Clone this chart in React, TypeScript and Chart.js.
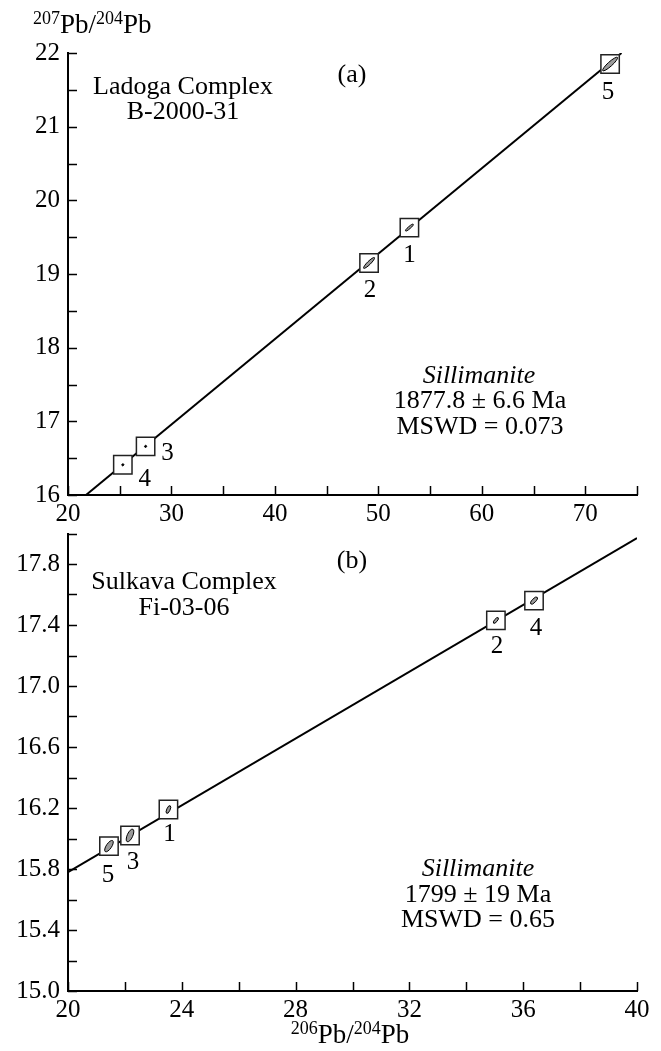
import React, { useEffect, useRef } from "react";
import { Chart, registerables } from "chart.js";

Chart.register(...registerables);

const SERIF = "'Liberation Serif', 'DejaVu Serif', 'Times New Roman', serif";

// ---------------- Panel (a): Ladoga Complex ----------------
const ptLabelsA = ["1", "2", "3", "4", "5"];
const pb206A = [53.0, 49.1, 27.5, 25.3, 72.4];
const pb207A = [19.63, 19.15, 16.66, 16.41, 21.85];
const err206A = [0.37, 0.52, 0.08, 0.08, 0.71];
const err207A = [0.045, 0.072, 0.01, 0.01, 0.09];
const isochronXA = [21.74, 73.5];
const isochronYA = [16.0, 22.0];
const xMajorA = [20, 30, 40, 50, 60, 70];
const xMinorA = [25, 35, 45, 55, 65, 75];
const yMajorA = [16, 17, 18, 19, 20, 21, 22];
const yMinorA = [16.5, 17.5, 18.5, 19.5, 20.5, 21.5];
const sampleA = ["Ladoga Complex", "B-2000-31"];
const panelA = "(a)";
const resultA = ["Sillimanite", "1877.8 ± 6.6 Ma", "MSWD = 0.073"];

// ---------------- Panel (b): Sulkava Complex ----------------
const ptLabelsB = ["1", "2", "3", "4", "5"];
const pb206B = [23.53, 35.04, 22.18, 36.38, 21.44];
const pb207B = [16.19, 17.43, 16.02, 17.56, 15.95];
const err206B = [0.06, 0.08, 0.1, 0.11, 0.13];
const err207B = [0.025, 0.018, 0.041, 0.022, 0.036];
const isochronXB = [20, 40];
const isochronYB = [15.78, 17.97];
const xMajorB = [20, 24, 28, 32, 36, 40];
const xMinorB = [22, 26, 30, 34, 38];
const yMajorB = [15.0, 15.4, 15.8, 16.2, 16.6, 17.0, 17.4, 17.8];
const yMinorB = [15.2, 15.6, 16.0, 16.4, 16.8, 17.2, 17.6, 18.0];
const sampleB = ["Sulkava Complex", "Fi-03-06"];
const panelB = "(b)";
const resultB = ["Sillimanite", "1799 ± 19 Ma", "MSWD = 0.65"];

const yTitleParts = [
  { t: "207", sup: true },
  { t: "Pb/", sup: false },
  { t: "204", sup: true },
  { t: "Pb", sup: false },
];
const xTitleParts = [
  { t: "206", sup: true },
  { t: "Pb/", sup: false },
  { t: "204", sup: true },
  { t: "Pb", sup: false },
];

// ---------------- styles ----------------
const TICK_FONT = 25;
const TEXT_FONT = 26;
const TITLE_FONT = 27;
const SUP_FONT = 18;

function drawRich(ctx: CanvasRenderingContext2D, parts: any[], x: number, y: number, align: string) {
  let total = 0;
  const widths = parts.map((p) => {
    ctx.font = `${p.sup ? SUP_FONT : TITLE_FONT}px ${SERIF}`;
    const w = ctx.measureText(p.t).width;
    total += w;
    return w;
  });
  let cx = align === "center" ? x - total / 2 : x;
  ctx.textAlign = "left";
  ctx.textBaseline = "alphabetic";
  parts.forEach((p, i) => {
    ctx.font = `${p.sup ? SUP_FONT : TITLE_FONT}px ${SERIF}`;
    ctx.fillText(p.t, cx, p.sup ? y - 9 : y);
    cx += widths[i];
  });
}

function buildChart(canvas: HTMLCanvasElement, cfg: any) {
  const pts = cfg.xs.map((x: number, i: number) => ({ x, y: cfg.ys[i] }));
  const line = cfg.isoX.map((x: number, i: number) => ({ x, y: cfg.isoY[i] }));

  const tickPlugin = {
    id: "inwardTicks",
    afterDraw(chart: any) {
      const ctx = chart.ctx;
      const xs = chart.scales.x;
      const ys = chart.scales.y;
      const area = chart.chartArea;
      ctx.save();
      ctx.strokeStyle = "#000";
      ctx.lineWidth = 1.5;
      ctx.beginPath();
      xs.ticks.forEach((t: any) => {
        const p = Math.round(xs.getPixelForValue(t.value)) + 0.5;
        ctx.moveTo(p, area.bottom);
        ctx.lineTo(p, area.bottom - 9);
      });
      ys.ticks.forEach((t: any) => {
        const p = Math.round(ys.getPixelForValue(t.value)) + 0.5;
        ctx.moveTo(area.left, p);
        ctx.lineTo(area.left + 9, p);
      });
      ctx.stroke();
      ctx.restore();
    },
  };

  const ellipsePlugin = {
    id: "errEllipses",
    afterDatasetsDraw(chart: any) {
      const ctx = chart.ctx;
      const xs = chart.scales.x;
      const ys = chart.scales.y;
      ctx.save();
      cfg.xs.forEach((x: number, i: number) => {
        const y = cfg.ys[i];
        const px = xs.getPixelForValue(x);
        const py = ys.getPixelForValue(y);
        const dx = xs.getPixelForValue(x + cfg.ex[i]) - px;
        const dy = ys.getPixelForValue(y + cfg.ey[i]) - py;
        const a = Math.max(Math.hypot(dx, dy), 1);
        const b = Math.max(a * cfg.ratio, 1);
        const ang = Math.atan2(dy, dx);
        ctx.beginPath();
        ctx.ellipse(px, py, a, b, ang, 0, Math.PI * 2);
        ctx.fillStyle = a < 2 ? "#000" : "#9a9a9a";
        ctx.fill();
        ctx.lineWidth = 1;
        ctx.strokeStyle = "#000";
        ctx.stroke();
        // point label
        const off = cfg.labelOffsets[i];
        ctx.fillStyle = "#000";
        ctx.font = `${TICK_FONT}px ${SERIF}`;
        ctx.textAlign = "center";
        ctx.textBaseline = "middle";
        ctx.fillText(cfg.ptLabels[i], px + off[0], py + off[1]);
      });
      ctx.restore();
    },
  };

  const textPlugin = {
    id: "annotations",
    afterDraw(chart: any) {
      const ctx = chart.ctx;
      ctx.save();
      ctx.fillStyle = "#000";
      ctx.textAlign = "center";
      ctx.textBaseline = "alphabetic";
      cfg.texts.forEach((t: any) => {
        ctx.font = `${t.italic ? "italic " : ""}${TEXT_FONT}px ${SERIF}`;
        ctx.textAlign = "center";
        ctx.fillText(t.text, t.x, t.y);
      });
      if (cfg.richTitle) {
        drawRich(ctx, cfg.richTitle.parts, cfg.richTitle.x, cfg.richTitle.y, cfg.richTitle.align);
      }
      ctx.restore();
    },
  };

  const fmt = cfg.fmt;
  const mkTicks = (major: number[], minor: number[]) => (s: any) => {
    s.ticks = [...major, ...minor].sort((a, b) => a - b).map((v) => ({ value: v }));
  };

  return new Chart(canvas, {
    type: "scatter",
    data: {
      datasets: [
        {
          data: line,
          showLine: true,
          pointRadius: 0,
          borderColor: "#000",
          borderWidth: 2,
          order: 2,
        },
        {
          data: pts,
          pointStyle: "rect",
          pointRadius: 13,
          pointBackgroundColor: "#fff",
          pointBorderColor: "#222",
          pointBorderWidth: 1.5,
          showLine: false,
          order: 1,
        },
      ],
    },
    options: {
      responsive: false,
      animation: false,
      events: [],
      layout: { padding: { top: cfg.padTop, right: 24, left: 0, bottom: 0 } },
      plugins: { legend: { display: false }, tooltip: { enabled: false } },
      scales: {
        x: {
          type: "linear",
          min: cfg.xMin,
          max: cfg.xMax,
          afterBuildTicks: mkTicks(cfg.xMajor, cfg.xMinor),
          afterFit: (s: any) => {
            s.height = cfg.xHeight;
          },
          grid: { display: false, drawTicks: false },
          border: { display: true, color: "#000", width: 2 },
          ticks: {
            autoSkip: false,
            maxRotation: 0,
            padding: 4,
            color: "#000",
            font: { family: SERIF, size: TICK_FONT },
            callback: (v: any) => (cfg.xMajor.includes(v) ? fmt.x(v) : ""),
          },
        },
        y: {
          type: "linear",
          min: cfg.yMin,
          max: cfg.yMax,
          afterBuildTicks: mkTicks(cfg.yMajor, cfg.yMinor),
          afterFit: (s: any) => {
            s.width = 68;
          },
          grid: { display: false, drawTicks: false },
          border: { display: true, color: "#000", width: 2 },
          ticks: {
            autoSkip: false,
            padding: 8,
            color: "#000",
            font: { family: SERIF, size: TICK_FONT },
            callback: (v: any) => (cfg.yMajor.includes(v) ? fmt.y(v) : ""),
          },
        },
      },
    },
    plugins: [tickPlugin, ellipsePlugin, textPlugin],
  } as any);
}

export default function App() {
  const refA = useRef<HTMLCanvasElement>(null);
  const refB = useRef<HTMLCanvasElement>(null);

  useEffect(() => {
    const chartA = buildChart(refA.current!, {
      xs: pb206A,
      ys: pb207A,
      ex: err206A,
      ey: err207A,
      ratio: 0.22,
      ptLabels: ptLabelsA,
      labelOffsets: [
        [0, 28],
        [1, 27],
        [22, 7],
        [22, 15],
        [-2, 28],
      ],
      isoX: isochronXA,
      isoY: isochronYA,
      xMin: 20,
      xMax: 75,
      yMin: 16,
      yMax: 22,
      xMajor: xMajorA,
      xMinor: xMinorA,
      yMajor: yMajorA,
      yMinor: yMinorA,
      padTop: 53,
      xHeight: 35,
      fmt: { x: (v: number) => String(v), y: (v: number) => String(v) },
      texts: [
        { text: sampleA[0], x: 183, y: 94 },
        { text: sampleA[1], x: 183, y: 119 },
        { text: panelA, x: 352, y: 82 },
        { text: resultA[0], x: 479, y: 383, italic: true },
        { text: resultA[1], x: 480, y: 408 },
        { text: resultA[2], x: 480, y: 434 },
      ],
      richTitle: { parts: yTitleParts, x: 33, y: 33, align: "left" },
    });
    const chartB = buildChart(refB.current!, {
      xs: pb206B,
      ys: pb207B,
      ex: err206B,
      ey: err207B,
      ratio: 0.4,
      ptLabels: ptLabelsB,
      labelOffsets: [
        [1, 25],
        [1, 26],
        [3, 27],
        [2, 28],
        [-1, 29],
      ],
      isoX: isochronXB,
      isoY: isochronYB,
      xMin: 20,
      xMax: 40,
      yMin: 15,
      yMax: 18,
      xMajor: xMajorB,
      xMinor: xMinorB,
      yMajor: yMajorB,
      yMinor: yMinorB,
      padTop: 33.5,
      xHeight: 60,
      fmt: { x: (v: number) => String(v), y: (v: number) => v.toFixed(1) },
      texts: [
        { text: sampleB[0], x: 184, y: 89 },
        { text: sampleB[1], x: 184, y: 115 },
        { text: panelB, x: 352, y: 68 },
        { text: resultB[0], x: 478, y: 376, italic: true },
        { text: resultB[1], x: 478, y: 402 },
        { text: resultB[2], x: 478, y: 427 },
      ],
      richTitle: { parts: xTitleParts, x: 350, y: 543, align: "center" },
    });
    return () => {
      chartA.destroy();
      chartB.destroy();
    };
  }, []);

  return (
    <div
      style={{
        position: "absolute",
        left: 0,
        top: 0,
        width: 661,
        height: 1051,
        background: "#fff",
        overflow: "hidden",
      }}
    >
      <canvas
        ref={refA}
        width={661}
        height={530}
        style={{ position: "absolute", left: 0, top: 0, width: 661, height: 530 }}
      />
      <canvas
        ref={refB}
        width={661}
        height={551}
        style={{ position: "absolute", left: 0, top: 500, width: 661, height: 551 }}
      />
    </div>
  );
}
